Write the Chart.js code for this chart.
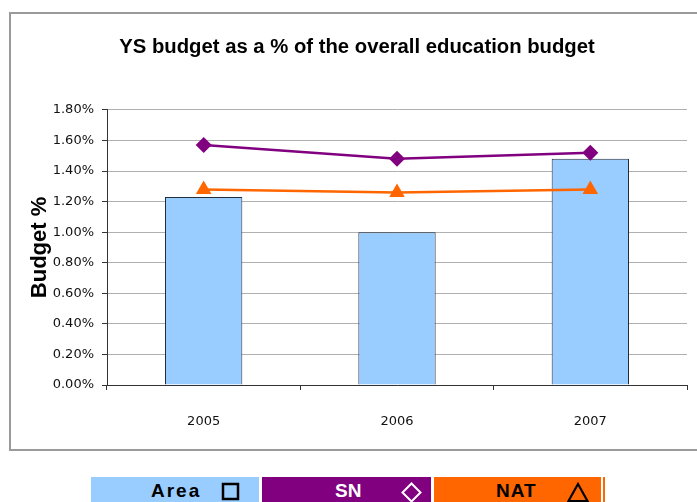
<!DOCTYPE html>
<html>
<head>
<meta charset="utf-8">
<title>YS budget</title>
<script src="https://cdn.jsdelivr.net/npm/chart.js@4/dist/chart.umd.min.js"></script>
<style>
  html, body { margin: 0; padding: 0; background: #fff; }
  #page { position: relative; width: 697px; height: 502px; overflow: hidden; }
  #frame {
    position: absolute; left: 9px; top: 12px; width: 720px; height: 435px;
    border: 2px solid #9a9a9a; box-sizing: content-box;
  }
  #budgetChart { position: absolute; left: 0; top: 0; }
  .key { position: absolute; top: 477px; height: 30px; }
  .key span {
    position: absolute; top: 3px; font: bold 19px "Liberation Sans", Arial, sans-serif;
  }
  .key svg { position: absolute; top: 5px; }
</style>
</head>
<body>
<div id="page">
  <div id="frame"></div>
  <canvas id="budgetChart" width="697" height="460"></canvas>
  <div id="legend"></div>
</div>
<script>
const years = ['2005', '2006', '2007'];
const areaValues = [1.23, 1.00, 1.48];
const snValues = [1.57, 1.48, 1.52];
const natValues = [1.28, 1.26, 1.28];
const yTicks = [0, 0.2, 0.4, 0.6, 0.8, 1.0, 1.2, 1.4, 1.6, 1.8];

const areaColor = '#99ccff';
const snColor = '#800080';
const natColor = '#ff6600';

drawBudgetChart();
drawLegend();

function drawBudgetChart() {
    var ctx = document.getElementById('budgetChart');
    var tickFont = { family: '"DejaVu Sans", Verdana, sans-serif', size: 13 };
    var titleFont = { family: '"Liberation Sans", Arial, sans-serif', size: 20.3, weight: 'bold', lineHeight: 1.2 };
    var axisTitleFont = { family: '"Liberation Sans", Arial, sans-serif', size: 22, weight: 'bold', lineHeight: 1.2 };

    const data = {
        labels: years,
        datasets: [{
            type: 'line',
            label: 'SN',
            data: snValues,
            borderColor: snColor,
            backgroundColor: snColor,
            borderWidth: 2.5,
            pointStyle: 'rectRot',
            pointRadius: 8,
            pointBorderWidth: 0,
            order: 1
        }, {
            type: 'line',
            label: 'NAT',
            data: natValues,
            borderColor: natColor,
            backgroundColor: natColor,
            borderWidth: 2.5,
            pointStyle: 'triangle',
            pointRadius: 9,
            pointBorderWidth: 0,
            order: 2
        }, {
            type: 'bar',
            label: 'Area',
            data: areaValues,
            backgroundColor: areaColor,
            borderColor: '#1f2d3d',
            borderWidth: 1,
            categoryPercentage: 0.4,
            barPercentage: 1,
            order: 3
        }]
    };

    const config = {
        type: 'bar',
        data: data,
        options: {
            responsive: false,
            animation: false,
            layout: { padding: { left: 27, right: 10, top: 0, bottom: 0 } },
            plugins: {
                legend: { display: false },
                tooltip: { enabled: false },
                title: {
                    display: true,
                    text: 'YS budget as a % of the overall education budget',
                    color: '#000',
                    font: titleFont,
                    padding: { top: 35, bottom: 50.6 }
                }
            },
            scales: {
                x: {
                    afterFit: function (scale) { scale.height = 75; },
                    grid: {
                        offset: true,
                        drawOnChartArea: false,
                        drawTicks: true,
                        tickLength: 5,
                        tickColor: '#333'
                    },
                    border: { color: '#333', width: 1 },
                    ticks: { color: '#111', font: tickFont, padding: 24 }
                },
                y: {
                    min: 0,
                    max: 1.8,
                    afterFit: function (scale) { scale.width = 80; },
                    afterBuildTicks: function (scale) {
                        scale.ticks = yTicks.map(v => ({ value: v }));
                    },
                    grid: {
                        color: '#b0b0b0',
                        lineWidth: 1,
                        tickLength: 5,
                        tickColor: '#333'
                    },
                    border: { color: '#333', width: 1 },
                    ticks: {
                        color: '#111',
                        font: tickFont,
                        padding: 8,
                        callback: v => v.toFixed(2) + '%'
                    },
                    title: {
                        display: true,
                        text: 'Budget %',
                        color: '#000',
                        font: axisTitleFont,
                        padding: { top: 0, bottom: 0 }
                    }
                }
            }
        }
    };

    new Chart(ctx, config);
}

// legend strip under the chart box
function drawLegend() {
    const keys = [
        { name: 'Area', fill: areaColor, ink: '#000', left: 91, width: 168, textX: 60, iconX: 130, spacing: '2px',
          icon: '<rect x="2" y="2" width="15" height="15" fill="none" stroke="#000" stroke-width="2.5"/>' },
        { name: 'SN', fill: snColor, ink: '#fff', left: 262, width: 169, textX: 73, iconX: 139, spacing: '0px',
          icon: '<path d="M10.5 1.5 L19.5 10.5 L10.5 19.5 L1.5 10.5 Z" fill="none" stroke="#fff" stroke-width="2"/>' },
        { name: 'NAT', fill: natColor, ink: '#000', left: 434, width: 167, textX: 62, iconX: 133, spacing: '1px',
          icon: '<path d="M11 2 L20.5 19 L1.5 19 Z" fill="none" stroke="#000" stroke-width="2.2"/>' }
    ];
    var holder = document.getElementById('legend');
    keys.forEach(k => {
        var cell = document.createElement('div');
        cell.className = 'key';
        cell.style.left = k.left + 'px';
        cell.style.width = k.width + 'px';
        cell.style.background = k.fill;
        cell.innerHTML =
            '<span style="left:' + k.textX + 'px;color:' + k.ink + ';letter-spacing:' + k.spacing + '">' + k.name + '</span>' +
            '<svg width="22" height="22" style="left:' + k.iconX + 'px">' + k.icon + '</svg>';
        holder.appendChild(cell);
    });
    var edge = document.createElement('div');
    edge.className = 'key';
    edge.style.left = '603px';
    edge.style.width = '2px';
    edge.style.background = natColor;
    holder.appendChild(edge);
}
</script>
</body>
</html>
